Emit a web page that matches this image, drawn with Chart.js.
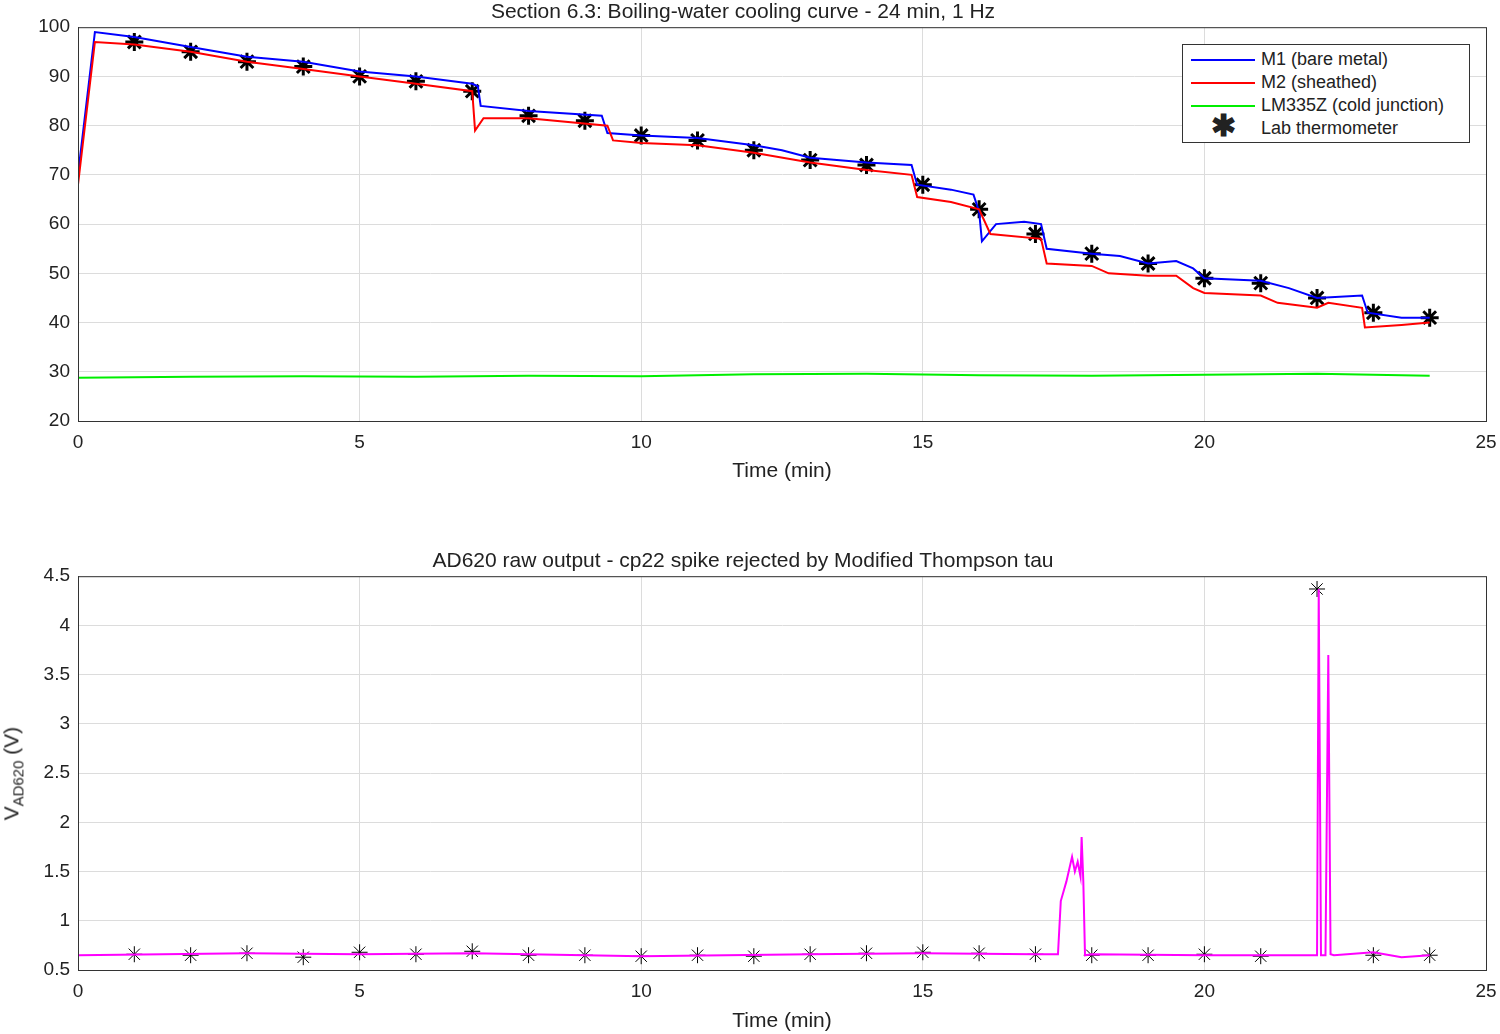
<!DOCTYPE html>
<html><head><meta charset="utf-8">
<script src="https://cdn.jsdelivr.net/npm/chart.js@4"></script>
<style>
body{margin:0;background:#fff;font-family:"Liberation Sans",Arial,sans-serif;}
canvas{position:absolute;left:0;}
#legend{position:absolute;left:1182px;top:44px;width:288px;height:99px;border:1px solid #333;background:#fff;font-size:18px;color:#222;box-sizing:border-box;padding-top:3px;}
#legend div{height:23px;line-height:23px;position:relative;padding-left:78px;}
#legend span.l{position:absolute;left:8px;top:11px;width:64px;height:2px;}
#legend span.s{position:absolute;left:28px;top:-3px;font-size:30px;font-weight:bold;}
#vlab{position:absolute;left:-52px;top:760px;width:130px;text-align:center;transform:rotate(-90deg);font-size:21px;color:#222;}
</style></head><body>
<canvas id="c1" width="1500" height="484" style="top:0"></canvas>
<canvas id="c2" width="1500" height="485" style="top:549px"></canvas>
<div id="legend">
<div><span class="l" style="background:#0000ff"></span>M1 (bare metal)</div>
<div><span class="l" style="background:#ff0000"></span>M2 (sheathed)</div>
<div><span class="l" style="background:#00ee00"></span>LM335Z (cold junction)</div>
<div><span class="s">✱</span>Lab thermometer</div>
</div>
<div id="vlab">V<sub style="font-size:15px">AD620</sub> (V)</div>
<script>
const m1T = [0,0.3,1,2,3,4,5,6,7,7.1,7.15,8,9.3,9.4,10,11,12,12.5,13,14,14.8,14.9,15.5,15.9,16,16.05,16.3,16.8,17.1,17.2,18,18.5,19,19.5,19.8,20,21,21.5,22,22.8,22.9,23.5,24];
const m1V = [70,99,98,96,94,93,91,90,88.5,88,84,83,82,78.5,78,77.5,76,75,73.5,72.5,72,68,67,66,62.5,56.5,60,60.5,60,55,54,53.5,52,52.5,51,49,48.5,47,45,45.5,42,41,41];
const m2T = [0,0.3,1,2,3,4,5,6,7,7.05,7.2,8,9.4,9.5,10,11,12,13,14,14.8,14.9,15.5,16,16.2,17.1,17.2,18,18.3,19,19.5,19.8,20,21,21.3,22,22.2,22.8,22.85,23.5,24];
const m2V = [68,97,96.5,95,93,91.5,90,88.5,87,79,81.5,81.5,80,77,76.5,76,74.5,72.5,71,70,65.5,64.5,63,58,57,52,51.5,50,49.5,49.5,47,46,45.5,44,43,44,43,39,39.5,40];
const cjT = [0,2,4,6,8,10,12,14,16,18,20,22,24];
const cjV = [28.8,29.0,29.1,29.0,29.2,29.1,29.5,29.6,29.3,29.2,29.4,29.6,29.2];
const labT = [1,2,3,4,5,6,7,8,9,10,11,12,13,14,15,16,17,18,19,20,21,22,23,24];
const labV = [97,95,93,92,90,89,87,82,81,78,77,75,73,72,68,63,58,54,52,49,48,45,42,41];
const adT = [0,3,5,7,10,13,15,17,17.4,17.45,17.5,17.55,17.65,17.7,17.75,17.8,17.82,17.85,17.88,18,20,22,22.03,22.07,22.15,22.2,22.24,22.3,23,23.5,24];
const adV = [0.65,0.67,0.66,0.67,0.64,0.66,0.67,0.66,0.66,1.2,1.3,1.4,1.65,1.5,1.6,1.45,1.85,1.4,0.65,0.66,0.65,0.65,4.37,0.65,0.65,3.7,0.66,0.65,0.68,0.63,0.65];
const adStarT = [1,2,3,4,5,6,7,8,9,10,11,12,13,14,15,16,17,18,19,20,21,22,23,24];
const adStarV = [0.66,0.65,0.67,0.63,0.68,0.66,0.69,0.65,0.65,0.64,0.65,0.64,0.66,0.67,0.68,0.67,0.66,0.65,0.65,0.66,0.64,4.37,0.65,0.65];

const pts = (t, v) => t.map((x, i) => ({ x, y: v[i] }));
const font = { family: "'Liberation Sans', Arial, sans-serif", size: 19 };
const gridC = "#dcdcdc";

function axes(ymin, ymax, step) {
    return {
        x: {
            type: "linear", min: 0, max: 25,
            ticks: { stepSize: 5, color: "#222", font, padding: 10 },
            grid: { color: gridC, tickLength: 0 },
            border: { color: "#333" },
            title: { display: true, text: "Time (min)", color: "#222", font: { ...font, size: 21 }, padding: 0 },
            afterFit: s => {
                s.height = s.chart.canvas.id === "c1" ? 63 : 64;
                s.paddingRight = 0;
                s.paddingLeft = 0;
            }
        },
        y: {
            min: ymin, max: ymax,
            ticks: { stepSize: step, color: "#222", font, padding: 8, callback: v => String(+v.toFixed(1)) },
            grid: { color: gridC, tickLength: 0 },
            border: { color: "#333" },
            afterFit: s => { s.width = 78; }
        }
    };
}

const boxPlugin = {
    id: "box",
    afterDraw(chart) {
        const a = chart.chartArea, ctx = chart.ctx;
        ctx.save();
        ctx.strokeStyle = "#333"; ctx.lineWidth = 1;
        ctx.strokeRect(a.left + 0.5, a.top + 0.5, a.right - a.left, a.bottom - a.top);
        ctx.restore();
    }
};

function opts(title, ymin, ymax, step) {
    return {
        responsive: false, animation: false, devicePixelRatio: 1,
        layout: { padding: { right: 14, top: 0 } },
        plugins: {
            legend: { display: false },
            tooltip: { enabled: false },
            title: { display: true, text: title, color: "#222", font: { ...font, size: 21, weight: "normal" }, padding: { top: 0, bottom: 2 } }
        },
        scales: axes(ymin, ymax, step)
    };
}

const line = (data, color) => ({ data, borderColor: color, borderWidth: 2, pointRadius: 0, fill: false, tension: 0 });

new Chart(document.getElementById("c1"), {
    type: "line",
    data: { datasets: [
        line(pts(cjT, cjV), "#00ee00"),
        line(pts(m2T, m2V), "#ff0000"),
        line(pts(m1T, m1V), "#0000ff"),
        { data: pts(labT, labV), showLine: false, pointStyle: "star", pointRadius: 9, borderColor: "#000", borderWidth: 3, backgroundColor: "#000" }
    ] },
    options: opts("Section 6.3: Boiling-water cooling curve - 24 min, 1 Hz", 20, 100, 10),
    plugins: [boxPlugin]
});

new Chart(document.getElementById("c2"), {
    type: "line",
    data: { datasets: [
        line(pts(adT, adV), "#ff00ff"),
        { data: pts(adStarT, adStarV), showLine: false, pointStyle: "star", pointRadius: 8, borderColor: "#000", borderWidth: 1 }
    ] },
    options: opts("AD620 raw output - cp22 spike rejected by Modified Thompson tau", 0.5, 4.5, 0.5),
    plugins: [boxPlugin]
});
</script>
</body></html>
